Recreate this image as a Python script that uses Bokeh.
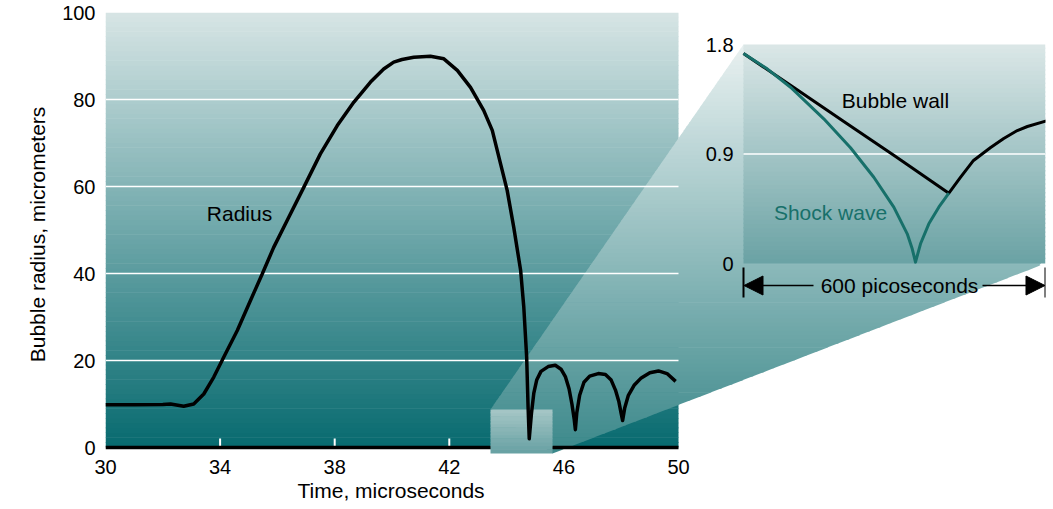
import numpy as np
from bokeh.plotting import figure
from bokeh.models import Range1d, FixedTicker, Arrow, NormalHead, Title
from bokeh.core.properties import value
from bokeh.embed import file_html
from bokeh.resources import INLINE

# ---------------- data ----------------
time_us = [30.0, 31.0, 32.0, 32.27, 32.73, 33.08, 33.43, 33.78, 34.13, 34.6, 35.06, 35.47,
           35.87, 36.34, 36.92, 37.5, 38.09, 38.67, 39.25, 39.71, 40.06, 40.35, 40.76,
           41.34, 41.81, 42.28, 42.74, 43.2, 43.5, 43.79, 44.02, 44.25, 44.49, 44.6, 44.7,
           44.75, 44.79, 44.87, 44.95, 45.05, 45.2, 45.45, 45.7, 45.9, 46.05, 46.18, 46.28,
           46.36, 46.4, 46.45, 46.55, 46.7, 46.9, 47.2, 47.45, 47.65, 47.8, 47.92, 48.0,
           48.05, 48.12, 48.25, 48.45, 48.7, 49.0, 49.3, 49.6, 49.9]
radius_um = [9.8, 9.8, 9.9, 10.0, 9.5, 10.0, 12.3, 16.2, 20.8, 26.9, 33.8, 39.9,
             46.0, 52.2, 59.8, 67.5, 74.0, 79.4, 84.0, 87.0, 88.6, 89.2, 89.7,
             89.95, 89.35, 86.7, 82.8, 77.5, 72.9, 65.2, 59.1, 50.6, 40.7, 32.3, 20.8,
             9.3, 2.0, 8.0, 12.5, 15.5, 17.5, 18.6, 18.9, 18.0, 16.3, 13.5, 10.0,
             6.5, 4.1, 8.0, 12.0, 15.0, 16.4, 17.0, 16.8, 15.5, 13.2, 10.5, 7.8,
             6.2, 9.0, 12.0, 14.3, 16.0, 17.2, 17.6, 17.0, 15.2]
x_ticks = [30, 34, 38, 42, 46, 50]
y_ticks = [0, 20, 40, 60, 80, 100]

inset_span_ps = [0, 600]
inset_ticks = [0, 0.9, 1.8]
wall_ps = [0, 100, 200, 300, 408, 431, 457, 491, 517, 544, 564, 604]
wall_um = [1.726, 1.446, 1.166, 0.886, 0.578, 0.707, 0.847, 0.953, 1.027, 1.093, 1.126, 1.175]
shock_ps = [0, 47.1, 93.4, 159.5, 212.6, 258.9, 298.6, 325.3, 335.2, 341.7,
            351.7, 368.2, 388.0, 408]
shock_um = [1.726, 1.600, 1.449, 1.189, 0.951, 0.709, 0.463, 0.244, 0.121, 0.011,
            0.162, 0.326, 0.463, 0.578]

# ---------------- layout (page pixels) ----------------
W, H = 1053, 509
FL, FR, FT, FB = 105, 1045, 12, 456        # plot frame edges
MX0, MX1, MY0, MY1 = 105, 678, 447, 12     # main plot box
IX0, IX1, IY0, IY1 = 743, 1045, 263, 44    # inset box
BOX = (490, 552, 409, 453)                 # zoom box (left, right, top, bottom)


def lin(p, p0, p1, v0, v1):
    return v0 + (p - p0) * (v1 - v0) / (p1 - p0)


def mx(px): return lin(px, MX0, MX1, x_ticks[0], x_ticks[-1])
def my(py): return lin(py, MY0, MY1, y_ticks[0], y_ticks[-1])
def ix(px): return lin(px, IX0, IX1, inset_span_ps[0], inset_span_ps[1])
def iy(py): return lin(py, IY0, IY1, inset_ticks[0], inset_ticks[-1])


def hx(c):
    c = c.lstrip("#")
    return np.array([int(c[i:i + 2], 16) for i in (0, 2, 4)], dtype=float)


def mix(c0, c1, t):
    v = hx(c0) * (1 - t) + hx(c1) * t
    return "#%02x%02x%02x" % tuple(int(round(a)) for a in v)


FONT = "Liberation Sans"
TEAL = "#17706a"

p = figure(width=W, height=H, output_backend="svg", toolbar_location=None,
           x_range=Range1d(mx(FL), mx(FR)), y_range=Range1d(my(FB), my(FT)),
           min_border_left=FL, min_border_right=W - FR,
           min_border_top=FT, min_border_bottom=H - FB)
p.extra_x_ranges = {"ix": Range1d(ix(FL), ix(FR))}
p.extra_y_ranges = {"iy": Range1d(iy(FB), iy(FT))}
p.outline_line_color = None
p.xgrid.visible = False
p.ygrid.visible = False
p.background_fill_color = "white"
p.border_fill_color = "white"

# ---------- main background gradient ----------
n = 90
edges = np.linspace(MY0, MY1, n + 1)
l, r, t, b, cols = [], [], [], [], []
for i in range(n):
    y0, y1 = edges[i], edges[i + 1]
    tt = 1 - ((y0 + y1) / 2 - MY1) / (MY0 - MY1)
    l.append(mx(MX0)); r.append(mx(MX1))
    b.append(my(y0)); t.append(my(y1 - (0.6 if i < n - 1 else 0)))
    cols.append(mix("#076a6f", "#d7e5e5", tt))
p.quad(left=l, right=r, top=t, bottom=b, fill_color=cols, line_color=None)

# white inner ticks
tick_x = x_ticks[1:-1]
p.segment(x0=tick_x, x1=tick_x, y0=[0] * len(tick_x), y1=[my(MY0 - 9)] * len(tick_x),
          line_color="white", line_width=2)

# ---------- zoom wedge (gradient) ----------
poly = [(BOX[0], BOX[2]), (IX0, IY1), (IX1, IY0), (BOX[1], BOX[3])]


def extent(y):
    xs = []
    for k in range(len(poly)):
        (x0, y0), (x1, y1) = poly[k], poly[(k + 1) % len(poly)]
        if min(y0, y1) - 1e-9 <= y <= max(y0, y1) + 1e-9 and y0 != y1:
            xs.append(x0 + (y - y0) * (x1 - x0) / (y1 - y0))
    return min(xs), max(xs)


wy0, wy1 = IY1, BOX[3]
nw = 100
wedges = np.linspace(wy0, wy1, nw + 1)
pxs, pys, wcols = [], [], []
for i in range(nw):
    ya = wedges[i]
    yb = min(wedges[i + 1] + 0.7, wy1)
    la, ra = extent(ya)
    lb, rb = extent(yb)
    pxs.append([mx(la), mx(ra), mx(rb), mx(lb)])
    pys.append([my(ya), my(ya), my(yb), my(yb)])
    tt = ((ya + wedges[i + 1]) / 2 - wy0) / (wy1 - wy0)
    wcols.append(mix("#e9f1f1", "#3b888a", tt))
p.patches(xs=pxs, ys=pys, fill_color=wcols, line_color=None)

# ---------- inset background ----------
ni = 50
iedges = np.linspace(inset_ticks[0], inset_ticks[-1], ni + 1)
il, ir, it, ib, icol = [], [], [], [], []
for i in range(ni):
    il.append(inset_span_ps[0]); ir.append(inset_span_ps[1])
    ib.append(iedges[i]); it.append(iedges[i + 1] + (0.012 if i < ni - 1 else 0))
    icol.append(mix("#6aa2a4", "#dbe7e7", (i + 0.5) / ni))
p.quad(left=il, right=ir, top=it, bottom=ib, fill_color=icol, line_color=None,
       x_range_name="ix", y_range_name="iy")

# ---------- grid lines ----------
gy = y_ticks[1:-1]
p.segment(x0=[x_ticks[0]] * len(gy), x1=[x_ticks[-1]] * len(gy), y0=gy, y1=gy,
          line_color="white", line_width=1.5)
p.segment(x0=[inset_span_ps[0]], x1=[inset_span_ps[1]], y0=[inset_ticks[1]], y1=[inset_ticks[1]],
          line_color="white", line_width=1.5, x_range_name="ix", y_range_name="iy")

# baseline
p.segment(x0=[x_ticks[0]], x1=[x_ticks[-1]], y0=[0], y1=[0], line_color="black", line_width=3.5)

# ---------- zoom box ----------
nb = 12
bedges = np.linspace(BOX[3], BOX[2], nb + 1)
bl, br, bt, bb, bc = [], [], [], [], []
for i in range(nb):
    bl.append(mx(BOX[0])); br.append(mx(BOX[1]))
    bb.append(my(bedges[i])); bt.append(my(bedges[i + 1] - (0.6 if i < nb - 1 else 0)))
    bc.append(mix("#66a0a2", "#a7c7c7", (i + 0.5) / nb))
p.quad(left=bl, right=br, top=bt, bottom=bb, fill_color=bc, line_color=None)

# ---------- curves ----------
p.line(time_us, radius_um, line_color="black", line_width=3.5, line_join="round")
p.line(wall_ps, wall_um, line_color="black", line_width=3, line_join="round",
       x_range_name="ix", y_range_name="iy")
p.line(shock_ps, shock_um, line_color=TEAL, line_width=3, line_join="round",
       x_range_name="ix", y_range_name="iy")

# ---------- texts ----------
p.text(x=[mx(239)], y=[my(213)], text=["Radius"], text_align="center", text_baseline="middle",
       text_font=value(FONT), text_font_size="21px", text_color="black")
p.text(x=[ix(895)], y=[iy(100)], text=["Bubble wall"], text_align="center", text_baseline="middle",
       text_font=value(FONT), text_font_size="21px", text_color="black",
       x_range_name="ix", y_range_name="iy")
p.text(x=[ix(830)], y=[iy(212)], text=["Shock wave"], text_align="center", text_baseline="middle",
       text_font=value(FONT), text_font_size="21px", text_color=TEAL,
       x_range_name="ix", y_range_name="iy")
p.text(x=[ix(899)], y=[iy(285)], text=["600 picoseconds"], text_align="center",
       text_baseline="middle", text_font=value(FONT), text_font_size="21px", text_color="black",
       x_range_name="ix", y_range_name="iy")
p.text(x=[ix(733)] * len(inset_ticks), y=inset_ticks, text=["%g" % v for v in inset_ticks],
       text_align="right", text_baseline="middle", text_font=value(FONT),
       text_font_size="20px", text_color="black", x_range_name="ix", y_range_name="iy")

# arrows and end bars
ay = iy(285)
for xs, xe in ((ix(813), inset_span_ps[0] + 1), (ix(982), inset_span_ps[1] - 1)):
    p.add_layout(Arrow(end=NormalHead(size=19, fill_color="black", line_color="black"),
                       x_start=xs, y_start=ay, x_end=xe, y_end=ay, line_width=1.5,
                       line_color="black", x_range_name="ix", y_range_name="iy"))
for xb in inset_span_ps:
    p.add_layout(Arrow(end=None, x_start=xb, y_start=iy(267), x_end=xb, y_end=iy(297),
                       line_width=2, line_color="black", x_range_name="ix", y_range_name="iy"))

# ---------- axes ----------
for ax in (p.xaxis, p.yaxis):
    ax.axis_line_color = None
    ax.major_tick_line_color = None
    ax.minor_tick_line_color = None
    ax.major_tick_out = 0
    ax.major_tick_in = 0
    ax.major_label_text_font = FONT
    ax.major_label_text_font_size = "20px"
    ax.major_label_text_color = "black"
p.xaxis.ticker = FixedTicker(ticks=x_ticks)
p.yaxis.ticker = FixedTicker(ticks=y_ticks)
p.xaxis.major_label_standoff = 3
p.yaxis.major_label_standoff = 10
p.yaxis.axis_label = "Bubble radius, micrometers"
p.yaxis.axis_label_text_font = FONT
p.yaxis.axis_label_text_font_size = "21px"
p.yaxis.axis_label_text_font_style = "normal"
p.yaxis.axis_label_text_color = "black"
p.yaxis.axis_label_standoff = 10

p.add_layout(Title(text="Time, microseconds", align="left", offset=297 - FL, standoff=0,
                   text_font=FONT, text_font_size="21px", text_font_style="normal",
                   text_color="black"), "below")

open("out.html", "w").write(file_html(p, INLINE))
